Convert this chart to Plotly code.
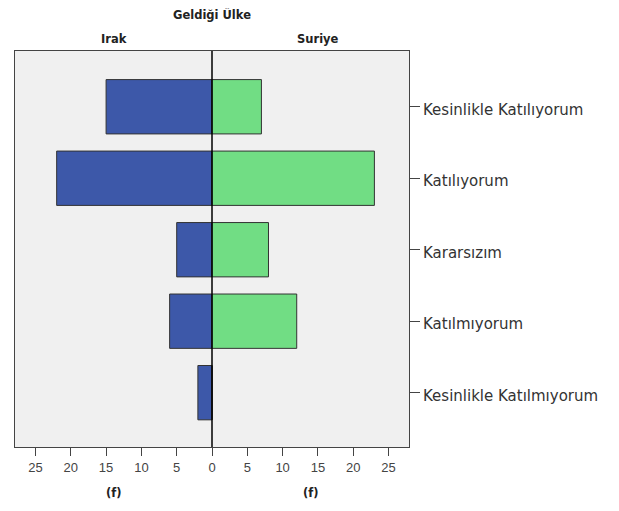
import plotly.graph_objects as go

categories = ["Kesinlikle Katılıyorum", "Katılıyorum", "Kararsızım", "Katılmıyorum", "Kesinlikle Katılmıyorum"]
irak = [15, 22, 5, 6, 2]
suriye = [7, 23, 8, 12, 0]
tick_vals = [-25, -20, -15, -10, -5, 0, 5, 10, 15, 20, 25]
tick_text = ["25", "20", "15", "10", "5", "0", "5", "10", "15", "20", "25"]

FONT = "Liberation Sans, Arial, sans-serif"
FONT2 = "DejaVu Sans, Verdana, sans-serif"

fig = go.Figure()
fig.add_trace(go.Bar(
    y=categories, x=[-v for v in irak], orientation="h", name="Irak",
    marker=dict(color="#3d58a9", line=dict(color="#333333", width=1)),
    width=0.76, base=0,
))
fig.add_trace(go.Bar(
    y=categories, x=suriye, orientation="h", name="Suriye",
    marker=dict(color="#71dd84", line=dict(color="#333333", width=1)),
    width=0.76, base=0,
))

fig.update_layout(
    width=611, height=503,
    margin=dict(l=7, r=210, t=43, b=64),
    paper_bgcolor="white", plot_bgcolor="#f0f0f0",
    barmode="overlay", showlegend=False,
    font=dict(family=FONT, size=12, color="#333333"),
    xaxis=dict(
        range=[-27.9, 27.9], tickvals=tick_vals, ticktext=tick_text,
        showgrid=False, zeroline=False, showline=True, mirror=True,
        linecolor="#444444", linewidth=1,
        ticks="outside", ticklen=8, tickcolor="#444444",
        tickfont=dict(family=FONT, size=13, color="#444444"),
        fixedrange=True,
    ),
    yaxis=dict(
        categoryorder="array", categoryarray=categories,
        range=[4.76, -0.78], side="right",
        showgrid=False, zeroline=False, showline=True, mirror=True,
        linecolor="#444444", linewidth=1,
        ticks="outside", ticklen=10, tickcolor="#444444",
        ticklabelshift=-3,
        tickfont=dict(family=FONT2, size=15, color="#333333"),
        fixedrange=True,
    ),
)

# center line
fig.add_shape(type="line", xref="x", yref="paper", x0=0, x1=0, y0=0, y1=1,
              line=dict(color="black", width=1.5), layer="above")

ann = dict(showarrow=False, yanchor="middle", font=dict(family=FONT2, size=11.5, color="#222222"))
fig.add_annotation(text="<b>Geldiği Ülke</b>", xref="x", yref="paper", x=0, y=1, yshift=37, **ann)
fig.add_annotation(text="<b>Irak</b>", xref="x", yref="paper", x=-13.95, y=1, yshift=12, **ann)
fig.add_annotation(text="<b>Suriye</b>", xref="x", yref="paper", x=15.0, y=1, yshift=12, **ann)
fig.add_annotation(text="<b>(f)</b>", xref="x", yref="paper", x=-13.95, y=0, yshift=-46, **ann)
fig.add_annotation(text="<b>(f)</b>", xref="x", yref="paper", x=13.95, y=0, yshift=-46, **ann)

fig.write_html("out.html")
